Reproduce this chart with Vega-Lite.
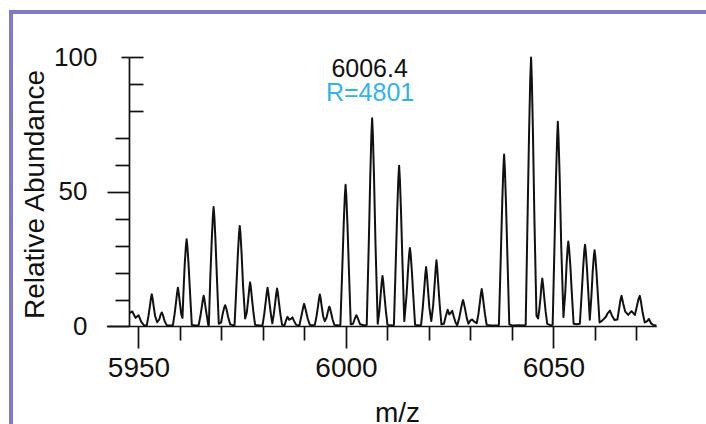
{
  "$schema": "https://vega.github.io/schema/vega-lite/v6.json",
  "width": 695,
  "height": 412,
  "autosize": {"type": "none"},
  "padding": {"left": 11, "top": 12, "right": 0, "bottom": 0},
  "background": "white",
  "config": {
    "font": "Liberation Sans",
    "view": {"stroke": "#7d7bc6", "strokeWidth": 4, "strokeDash": [695, 1107, 412], "strokeCap": "square"},
    "axis": {"grid": false, "domain": false, "tickColor": "#111111", "tickWidth": 1.7, "labelColor": "#111111", "titleColor": "#111111", "labelFont": "Liberation Sans", "titleFont": "Liberation Sans", "titleFontWeight": "normal", "labelFlush": false, "labelOverlap": false}
  },
  "resolve": {"axis": {"x": "independent", "y": "independent"}},
  "layer": [
    {
      "data": {"values": [
        {"mz": 5947.83, "ab": 5.0}, {"mz": 5948.5, "ab": 5.6}, {"mz": 5949.3, "ab": 3.2}, {"mz": 5950.0, "ab": 4.2}, {"mz": 5950.7, "ab": 1.6}, {"mz": 5951.3, "ab": 0.5}, {"mz": 5952.0, "ab": 0.4},
        {"mz": 5952.4, "ab": 3.9}, {"mz": 5952.75, "ab": 7.6}, {"mz": 5953.02, "ab": 10.6}, {"mz": 5953.2, "ab": 12.0}, {"mz": 5953.38, "ab": 10.6}, {"mz": 5953.65, "ab": 7.6}, {"mz": 5954.0, "ab": 3.9}, {"mz": 5954.5, "ab": 1.6},
        {"mz": 5955.0, "ab": 2.6}, {"mz": 5955.3, "ab": 4.2}, {"mz": 5955.6, "ab": 5.2}, {"mz": 5955.9, "ab": 4.2}, {"mz": 5956.3, "ab": 2.0}, {"mz": 5956.8, "ab": 0.5}, {"mz": 5957.8, "ab": 0.4},
        {"mz": 5958.3, "ab": 0.5}, {"mz": 5958.7, "ab": 4.6}, {"mz": 5959.05, "ab": 9.1}, {"mz": 5959.32, "ab": 12.7}, {"mz": 5959.5, "ab": 14.4}, {"mz": 5959.68, "ab": 12.7}, {"mz": 5959.95, "ab": 9.1}, {"mz": 5960.3, "ab": 4.6}, {"mz": 5960.6, "ab": 3.2},
        {"mz": 5960.85, "ab": 13.2}, {"mz": 5961.15, "ab": 23.4}, {"mz": 5961.42, "ab": 29.8}, {"mz": 5961.6, "ab": 32.4}, {"mz": 5961.78, "ab": 29.8}, {"mz": 5962.05, "ab": 23.4}, {"mz": 5962.4, "ab": 13.2}, {"mz": 5962.85, "ab": 0.6}, {"mz": 5963.8, "ab": 0.4},
        {"mz": 5964.5, "ab": 0.5}, {"mz": 5964.9, "ab": 3.7}, {"mz": 5965.25, "ab": 7.2}, {"mz": 5965.52, "ab": 10.1}, {"mz": 5965.7, "ab": 11.4}, {"mz": 5965.88, "ab": 10.1}, {"mz": 5966.15, "ab": 7.2}, {"mz": 5966.5, "ab": 3.7}, {"mz": 5966.8, "ab": 0.6},
        {"mz": 5966.95, "ab": 0.6}, {"mz": 5967.3, "ab": 18.0}, {"mz": 5967.65, "ab": 32.1}, {"mz": 5967.92, "ab": 40.9}, {"mz": 5968.1, "ab": 44.4}, {"mz": 5968.28, "ab": 40.9}, {"mz": 5968.55, "ab": 32.1}, {"mz": 5968.9, "ab": 18.0}, {"mz": 5969.35, "ab": 1.0},
        {"mz": 5969.9, "ab": 1.5}, {"mz": 5970.3, "ab": 4.8}, {"mz": 5970.65, "ab": 7.0}, {"mz": 5970.9, "ab": 7.9}, {"mz": 5971.2, "ab": 6.5}, {"mz": 5971.6, "ab": 3.5}, {"mz": 5972.1, "ab": 0.8}, {"mz": 5972.9, "ab": 0.4},
        {"mz": 5973.15, "ab": 0.5}, {"mz": 5973.6, "ab": 15.2}, {"mz": 5973.95, "ab": 27.0}, {"mz": 5974.22, "ab": 34.4}, {"mz": 5974.4, "ab": 37.4}, {"mz": 5974.58, "ab": 34.4}, {"mz": 5974.85, "ab": 27.0}, {"mz": 5975.2, "ab": 15.2}, {"mz": 5975.7, "ab": 3.0},
        {"mz": 5976.1, "ab": 5.2}, {"mz": 5976.45, "ab": 10.3}, {"mz": 5976.72, "ab": 14.5}, {"mz": 5976.9, "ab": 16.4}, {"mz": 5977.08, "ab": 14.5}, {"mz": 5977.35, "ab": 10.3}, {"mz": 5977.7, "ab": 5.2}, {"mz": 5978.1, "ab": 0.6}, {"mz": 5979.2, "ab": 0.4},
        {"mz": 5979.9, "ab": 0.5}, {"mz": 5980.3, "ab": 4.6}, {"mz": 5980.65, "ab": 9.1}, {"mz": 5980.92, "ab": 12.7}, {"mz": 5981.1, "ab": 14.4}, {"mz": 5981.28, "ab": 12.7}, {"mz": 5981.55, "ab": 9.1}, {"mz": 5981.9, "ab": 4.6}, {"mz": 5982.25, "ab": 1.2},
        {"mz": 5982.6, "ab": 4.5}, {"mz": 5982.95, "ab": 8.9}, {"mz": 5983.22, "ab": 12.5}, {"mz": 5983.4, "ab": 14.1}, {"mz": 5983.58, "ab": 12.5}, {"mz": 5983.85, "ab": 8.9}, {"mz": 5984.2, "ab": 4.5}, {"mz": 5984.6, "ab": 0.6}, {"mz": 5985.2, "ab": 0.5},
        {"mz": 5985.6, "ab": 2.5}, {"mz": 5985.9, "ab": 3.6}, {"mz": 5986.3, "ab": 2.5}, {"mz": 5986.7, "ab": 2.8}, {"mz": 5987.1, "ab": 3.4}, {"mz": 5987.5, "ab": 2.0}, {"mz": 5988.0, "ab": 0.6},
        {"mz": 5988.8, "ab": 0.5}, {"mz": 5989.1, "ab": 2.8}, {"mz": 5989.45, "ab": 5.4}, {"mz": 5989.72, "ab": 7.4}, {"mz": 5989.9, "ab": 8.4}, {"mz": 5990.1, "ab": 7.4}, {"mz": 5990.4, "ab": 5.4}, {"mz": 5990.8, "ab": 2.8}, {"mz": 5991.3, "ab": 0.6}, {"mz": 5992.2, "ab": 0.5},
        {"mz": 5992.5, "ab": 0.6}, {"mz": 5992.9, "ab": 3.8}, {"mz": 5993.25, "ab": 7.5}, {"mz": 5993.52, "ab": 10.5}, {"mz": 5993.7, "ab": 11.9}, {"mz": 5993.88, "ab": 10.5}, {"mz": 5994.15, "ab": 7.5}, {"mz": 5994.5, "ab": 3.8}, {"mz": 5994.9, "ab": 2.0},
        {"mz": 5995.3, "ab": 3.2}, {"mz": 5995.6, "ab": 5.2}, {"mz": 5995.85, "ab": 6.8}, {"mz": 5996.0, "ab": 7.4}, {"mz": 5996.15, "ab": 6.8}, {"mz": 5996.45, "ab": 4.8}, {"mz": 5996.8, "ab": 2.4}, {"mz": 5997.2, "ab": 0.6}, {"mz": 5998.4, "ab": 0.4},
        {"mz": 5998.65, "ab": 0.6}, {"mz": 5999.1, "ab": 21.3}, {"mz": 5999.45, "ab": 38.1}, {"mz": 5999.72, "ab": 48.5}, {"mz": 5999.9, "ab": 52.7}, {"mz": 6000.08, "ab": 48.5}, {"mz": 6000.35, "ab": 38.1}, {"mz": 6000.7, "ab": 21.3}, {"mz": 6001.15, "ab": 0.8}, {"mz": 6001.7, "ab": 1.0},
        {"mz": 6002.1, "ab": 2.8}, {"mz": 6002.5, "ab": 4.2}, {"mz": 6002.9, "ab": 2.8}, {"mz": 6003.4, "ab": 0.8}, {"mz": 6004.5, "ab": 0.4},
        {"mz": 6005.0, "ab": 0.6}, {"mz": 6005.5, "ab": 31.2}, {"mz": 6005.85, "ab": 55.8}, {"mz": 6006.12, "ab": 71.2}, {"mz": 6006.3, "ab": 77.4}, {"mz": 6006.48, "ab": 71.2}, {"mz": 6006.75, "ab": 55.8}, {"mz": 6007.1, "ab": 31.2}, {"mz": 6007.65, "ab": 1.0},
        {"mz": 6008.05, "ab": 5.9}, {"mz": 6008.35, "ab": 11.8}, {"mz": 6008.62, "ab": 16.6}, {"mz": 6008.8, "ab": 18.8}, {"mz": 6008.98, "ab": 16.6}, {"mz": 6009.25, "ab": 11.8}, {"mz": 6009.6, "ab": 5.9}, {"mz": 6010.0, "ab": 0.6}, {"mz": 6011.3, "ab": 0.4},
        {"mz": 6011.55, "ab": 0.6}, {"mz": 6012.0, "ab": 24.2}, {"mz": 6012.35, "ab": 43.2}, {"mz": 6012.62, "ab": 55.0}, {"mz": 6012.8, "ab": 59.8}, {"mz": 6012.98, "ab": 55.0}, {"mz": 6013.25, "ab": 43.2}, {"mz": 6013.6, "ab": 24.2}, {"mz": 6014.05, "ab": 2.0},
        {"mz": 6014.6, "ab": 11.9}, {"mz": 6014.95, "ab": 21.1}, {"mz": 6015.22, "ab": 26.9}, {"mz": 6015.4, "ab": 29.2}, {"mz": 6015.58, "ab": 26.9}, {"mz": 6015.85, "ab": 21.1}, {"mz": 6016.2, "ab": 11.9}, {"mz": 6016.65, "ab": 0.6}, {"mz": 6017.8, "ab": 0.4},
        {"mz": 6018.1, "ab": 0.6}, {"mz": 6018.5, "ab": 6.9}, {"mz": 6018.85, "ab": 13.9}, {"mz": 6019.12, "ab": 19.5}, {"mz": 6019.3, "ab": 22.1}, {"mz": 6019.48, "ab": 19.5}, {"mz": 6019.75, "ab": 13.9}, {"mz": 6020.1, "ab": 6.9}, {"mz": 6020.55, "ab": 2.0},
        {"mz": 6021.0, "ab": 7.7}, {"mz": 6021.35, "ab": 15.4}, {"mz": 6021.62, "ab": 21.7}, {"mz": 6021.8, "ab": 24.6}, {"mz": 6021.98, "ab": 21.7}, {"mz": 6022.25, "ab": 15.4}, {"mz": 6022.6, "ab": 7.7}, {"mz": 6023.0, "ab": 0.8}, {"mz": 6023.6, "ab": 1.0},
        {"mz": 6024.0, "ab": 3.5}, {"mz": 6024.5, "ab": 6.2}, {"mz": 6024.9, "ab": 4.5}, {"mz": 6025.2, "ab": 5.0}, {"mz": 6025.6, "ab": 5.8}, {"mz": 6026.0, "ab": 3.5}, {"mz": 6026.4, "ab": 1.5}, {"mz": 6026.8, "ab": 0.5},
        {"mz": 6027.3, "ab": 3.2}, {"mz": 6027.7, "ab": 6.5}, {"mz": 6028.0, "ab": 8.7}, {"mz": 6028.2, "ab": 9.8}, {"mz": 6028.4, "ab": 8.7}, {"mz": 6028.7, "ab": 6.5}, {"mz": 6029.1, "ab": 3.2}, {"mz": 6029.5, "ab": 1.0},
        {"mz": 6030.0, "ab": 2.3}, {"mz": 6030.4, "ab": 2.6}, {"mz": 6030.9, "ab": 1.8}, {"mz": 6031.5, "ab": 1.2},
        {"mz": 6031.9, "ab": 4.5}, {"mz": 6032.25, "ab": 8.8}, {"mz": 6032.52, "ab": 12.3}, {"mz": 6032.7, "ab": 13.9}, {"mz": 6032.88, "ab": 12.3}, {"mz": 6033.15, "ab": 8.8}, {"mz": 6033.5, "ab": 4.5}, {"mz": 6033.9, "ab": 0.6}, {"mz": 6035.0, "ab": 0.4}, {"mz": 6036.6, "ab": 0.4},
        {"mz": 6036.85, "ab": 0.6}, {"mz": 6037.3, "ab": 25.8}, {"mz": 6037.65, "ab": 46.1}, {"mz": 6037.92, "ab": 58.8}, {"mz": 6038.1, "ab": 63.9}, {"mz": 6038.28, "ab": 58.8}, {"mz": 6038.55, "ab": 46.1}, {"mz": 6038.9, "ab": 25.8}, {"mz": 6039.35, "ab": 0.8},
        {"mz": 6040.0, "ab": 0.4}, {"mz": 6041.5, "ab": 0.5}, {"mz": 6043.0, "ab": 0.4},
        {"mz": 6043.3, "ab": 0.6}, {"mz": 6043.75, "ab": 40.2}, {"mz": 6044.12, "ab": 72.1}, {"mz": 6044.4, "ab": 92.0}, {"mz": 6044.6, "ab": 100.0}, {"mz": 6044.78, "ab": 92.0}, {"mz": 6045.05, "ab": 72.1}, {"mz": 6045.4, "ab": 40.2}, {"mz": 6045.9, "ab": 4.0}, {"mz": 6046.3, "ab": 3.0},
        {"mz": 6046.6, "ab": 6.5}, {"mz": 6046.9, "ab": 11.2}, {"mz": 6047.12, "ab": 15.7}, {"mz": 6047.3, "ab": 17.8}, {"mz": 6047.48, "ab": 15.7}, {"mz": 6047.75, "ab": 11.2}, {"mz": 6048.1, "ab": 5.6}, {"mz": 6048.5, "ab": 1.0}, {"mz": 6049.2, "ab": 0.5},
        {"mz": 6049.8, "ab": 0.6}, {"mz": 6050.25, "ab": 30.7}, {"mz": 6050.6, "ab": 54.9}, {"mz": 6050.88, "ab": 70.0}, {"mz": 6051.05, "ab": 76.1}, {"mz": 6051.22, "ab": 70.0}, {"mz": 6051.5, "ab": 54.9}, {"mz": 6051.85, "ab": 30.7}, {"mz": 6052.4, "ab": 3.5},
        {"mz": 6052.85, "ab": 12.9}, {"mz": 6053.15, "ab": 22.9}, {"mz": 6053.4, "ab": 29.1}, {"mz": 6053.57, "ab": 31.6}, {"mz": 6053.75, "ab": 29.1}, {"mz": 6054.05, "ab": 22.9}, {"mz": 6054.4, "ab": 12.9}, {"mz": 6054.85, "ab": 1.0}, {"mz": 6055.6, "ab": 0.8},
        {"mz": 6056.35, "ab": 1.0}, {"mz": 6056.8, "ab": 12.4}, {"mz": 6057.15, "ab": 22.0}, {"mz": 6057.42, "ab": 28.0}, {"mz": 6057.6, "ab": 30.4}, {"mz": 6057.78, "ab": 28.0}, {"mz": 6058.05, "ab": 22.0}, {"mz": 6058.4, "ab": 12.4}, {"mz": 6058.75, "ab": 2.5},
        {"mz": 6059.15, "ab": 11.6}, {"mz": 6059.45, "ab": 20.5}, {"mz": 6059.72, "ab": 26.1}, {"mz": 6059.9, "ab": 28.3}, {"mz": 6060.08, "ab": 26.1}, {"mz": 6060.35, "ab": 20.5}, {"mz": 6060.7, "ab": 11.6}, {"mz": 6061.1, "ab": 1.5}, {"mz": 6061.6, "ab": 2.0},
        {"mz": 6062.6, "ab": 3.5}, {"mz": 6063.1, "ab": 5.0}, {"mz": 6063.6, "ab": 5.9}, {"mz": 6064.1, "ab": 4.0}, {"mz": 6064.7, "ab": 2.4},
        {"mz": 6065.4, "ab": 2.6}, {"mz": 6065.8, "ab": 6.5}, {"mz": 6066.15, "ab": 10.0}, {"mz": 6066.4, "ab": 11.4}, {"mz": 6066.8, "ab": 8.5}, {"mz": 6067.3, "ab": 5.5}, {"mz": 6068.0, "ab": 4.3}, {"mz": 6068.8, "ab": 5.7}, {"mz": 6069.6, "ab": 4.3},
        {"mz": 6070.1, "ab": 7.5}, {"mz": 6070.5, "ab": 10.3}, {"mz": 6070.8, "ab": 11.4}, {"mz": 6071.1, "ab": 9.0}, {"mz": 6071.5, "ab": 5.0}, {"mz": 6072.0, "ab": 1.5}, {"mz": 6072.6, "ab": 2.0}, {"mz": 6073.0, "ab": 2.8}, {"mz": 6073.5, "ab": 1.2}, {"mz": 6074.0, "ab": 0.6}, {"mz": 6074.8, "ab": 0.4}
      ]},
      "mark": {"type": "line", "color": "#111111", "strokeWidth": 2, "strokeJoin": "round"},
      "encoding": {
        "x": {"field": "mz", "type": "quantitative", "sort": null,
          "scale": {"domain": [5919.28, 6086.75], "nice": false, "zero": false},
          "axis": {"orient": "bottom", "offset": -98, "values": [5950, 6000, 6050], "tickSize": 22, "labelFontSize": 28, "labelPadding": 6, "format": "d",
            "title": "m/z", "titleFontSize": 28, "titleX": 386, "titleY": 95, "titleBaseline": "alphabetic", "titleAlign": "center", "titleAnchor": null}},
        "y": {"field": "ab", "type": "quantitative",
          "scale": {"domain": [-36.25, 116.914], "nice": false, "zero": false},
          "axis": {"orient": "left", "offset": -118, "values": [0, 50], "tickSize": 22, "labelFontSize": 26, "labelPadding": 20, "format": "d",
            "title": "Relative Abundance", "titleFontSize": 28, "titleX": -86, "titleY": 182, "titleAngle": -90, "titleBaseline": "alphabetic", "titleAlign": "center", "titleAnchor": null}}
      }
    },
    {
      "data": {"values": [{"mz": 5947.83, "ab": 0, "ab2": 100}]},
      "mark": {"type": "rule", "color": "#111111", "strokeWidth": 1.7},
      "encoding": {
        "x": {"field": "mz", "type": "quantitative",
          "scale": {"domain": [5919.28, 6086.75], "nice": false, "zero": false},
          "axis": {"orient": "bottom", "offset": -98, "values": [5960, 5970, 5980, 5990, 6010, 6020, 6030, 6040, 6060, 6070], "tickSize": 14, "labels": false, "title": null}},
        "y": {"field": "ab", "type": "quantitative",
          "scale": {"domain": [-36.25, 116.914], "nice": false, "zero": false},
          "axis": {"orient": "left", "offset": -118, "values": [100], "tickSize": 8, "labelFontSize": 26, "labelPadding": 24, "format": "d", "title": null}},
        "y2": {"field": "ab2"}
      }
    },
    {
      "data": {"values": [{"mz": 5942.4, "mz2": 6074.9, "ab": 0}]},
      "mark": {"type": "rule", "color": "#111111", "strokeWidth": 1.7},
      "encoding": {
        "x": {"field": "mz", "type": "quantitative",
          "scale": {"domain": [5919.28, 6086.75], "nice": false, "zero": false}, "axis": null},
        "x2": {"field": "mz2"},
        "y": {"field": "ab", "type": "quantitative",
          "scale": {"domain": [-36.25, 116.914], "nice": false, "zero": false},
          "axis": {"orient": "left", "offset": -118, "values": [10, 20, 30, 40, 60, 70], "tickSize": 14, "labels": false, "title": null}}
      }
    },
    {
      "data": {"values": [
        {"mz": 6005.7, "ab": 92.6, "label": "6006.4"},
        {"mz": 6005.8, "ab": 84.0, "label": "R=4801"}
      ]},
      "mark": {"type": "text", "fontSize": 25, "font": "Liberation Sans", "align": "center", "baseline": "alphabetic"},
      "encoding": {
        "x": {"field": "mz", "type": "quantitative",
          "scale": {"domain": [5919.28, 6086.75], "nice": false, "zero": false}, "axis": null},
        "y": {"field": "ab", "type": "quantitative",
          "scale": {"domain": [-36.25, 116.914], "nice": false, "zero": false},
          "axis": {"orient": "left", "offset": -118, "values": [80, 90, 100], "tickSize": -14, "labels": false, "title": null}},
        "text": {"field": "label"},
        "color": {"field": "label", "type": "nominal", "scale": {"domain": ["6006.4", "R=4801"], "range": ["#111111", "#2fb4ee"]}, "legend": null}
      }
    }
  ]
}
